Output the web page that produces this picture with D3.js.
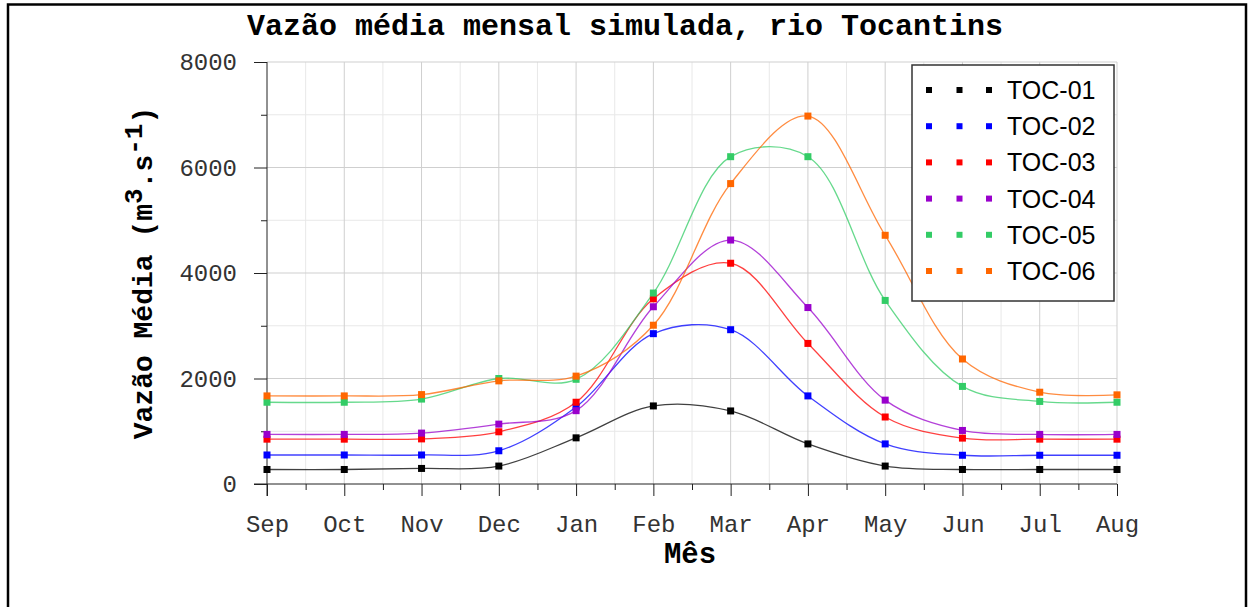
<!DOCTYPE html>
<html>
<head>
<meta charset="utf-8">
<script src="https://cdn.jsdelivr.net/npm/d3@7"></script>
<style>
  body { margin: 0; background: #fff; }
  svg { display: block; }
  .grid-major line { stroke: #cfcfcf; stroke-width: 1; }
  .grid-minor line { stroke: #e8e8e8; stroke-width: 1; }
  .axis text { font-family: "Courier New", "Liberation Mono", monospace; font-size: 24px; fill: #333; }
  .axis line, .axis path { stroke: #222; }
</style>
</head>
<body>
<svg id="chart"></svg>
<script>
const width = 1248, height = 607;
const months = ["Sep", "Oct", "Nov", "Dec", "Jan", "Feb", "Mar", "Apr", "May", "Jun", "Jul", "Aug"];
const seriesNames = ["TOC-01", "TOC-02", "TOC-03", "TOC-04", "TOC-05", "TOC-06"];
const seriesColors = ["#000000", "#0000ff", "#ff0000", "#9900cc", "#33cc66", "#ff6600"];

const toc01 = [275, 275, 295, 340, 875, 1480, 1385, 760, 340, 275, 275, 275];
const toc02 = [550, 550, 550, 630, 1460, 2850, 2925, 1670, 760, 545, 545, 545];
const toc03 = [850, 850, 855, 990, 1550, 3510, 4185, 2665, 1270, 870, 850, 850];
const toc04 = [940, 940, 965, 1135, 1390, 3360, 4625, 3345, 1590, 1015, 940, 940];
const toc05 = [1550, 1550, 1610, 2000, 1985, 3620, 6205, 6205, 3480, 1850, 1565, 1550];
const toc06 = [1670, 1670, 1695, 1955, 2045, 3010, 5695, 6975, 4715, 2370, 1740, 1690];
const seriesValues = [toc01, toc02, toc03, toc04, toc05, toc06];

const yTicks = [0, 2000, 4000, 6000, 8000];
const yMinorTicks = [1000, 3000, 5000, 7000];

const plot = { left: 267, right: 1117, top: 62, bottom: 484 };

const svg = d3.select("#chart").attr("width", width).attr("height", height);

// outer frame
svg.append("rect")
  .attr("x", 8).attr("y", 4.5)
  .attr("width", 1238).attr("height", 620)
  .attr("fill", "#fff")
  .attr("stroke", "#000")
  .attr("stroke-width", 2.5);

const x = d3.scaleLinear().domain([0, months.length - 1]).range([plot.left, plot.right]);
const y = d3.scaleLinear().domain([0, 8000]).range([plot.bottom, plot.top]);

const xMinor = d3.range(0.5, months.length - 1, 1);

// grid
const gMinor = svg.append("g").attr("class", "grid-minor");
gMinor.selectAll(".vx").data(xMinor).enter().append("line")
  .attr("x1", d => x(d)).attr("x2", d => x(d))
  .attr("y1", plot.top).attr("y2", plot.bottom);
gMinor.selectAll(".hy").data(yMinorTicks).enter().append("line")
  .attr("x1", plot.left).attr("x2", plot.right)
  .attr("y1", d => y(d)).attr("y2", d => y(d));

const gMajor = svg.append("g").attr("class", "grid-major");
gMajor.selectAll(".vx").data(d3.range(1, months.length)).enter().append("line")
  .attr("x1", d => x(d)).attr("x2", d => x(d))
  .attr("y1", plot.top).attr("y2", plot.bottom);
gMajor.selectAll(".hy").data(yTicks.slice(1)).enter().append("line")
  .attr("x1", plot.left).attr("x2", plot.right)
  .attr("y1", d => y(d)).attr("y2", d => y(d));

// axes
const xAxis = svg.append("g")
  .attr("class", "axis")
  .attr("transform", "translate(0," + plot.bottom + ")")
  .call(d3.axisBottom(x)
    .tickValues(d3.range(0, months.length))
    .tickFormat(i => months[i])
    .tickSize(12)
    .tickPadding(19));
xAxis.select(".domain").remove();

svg.append("g")
  .attr("class", "axis")
  .attr("transform", "translate(0," + plot.bottom + ")")
  .call(d3.axisBottom(x).tickValues(xMinor).tickFormat("").tickSize(6))
  .select(".domain").remove();

const yAxis = svg.append("g")
  .attr("class", "axis")
  .attr("transform", "translate(" + plot.left + ",0)")
  .call(d3.axisLeft(y).tickValues(yTicks).tickFormat(d3.format("d")).tickSize(13).tickPadding(17));
yAxis.select(".domain").remove();

svg.append("g")
  .attr("class", "axis")
  .attr("transform", "translate(" + plot.left + ",0)")
  .call(d3.axisLeft(y).tickValues(yMinorTicks).tickFormat("").tickSize(6))
  .select(".domain").remove();

svg.append("line")
  .attr("x1", plot.left - 13).attr("x2", plot.right)
  .attr("y1", plot.bottom).attr("y2", plot.bottom)
  .attr("stroke", "#222");
svg.append("line")
  .attr("x1", plot.left).attr("x2", plot.left)
  .attr("y1", plot.top).attr("y2", plot.bottom + 12)
  .attr("stroke", "#222");

// series
const line = d3.line()
  .x((d, i) => x(i))
  .y(d => y(d))
  .curve(d3.curveCatmullRom.alpha(0.5));

const gSeries = svg.append("g").attr("class", "series");
seriesValues.forEach(function (vals, s) {
  gSeries.append("path")
    .datum(vals)
    .attr("d", line)
    .attr("fill", "none")
    .attr("stroke", seriesColors[s])
    .attr("stroke-opacity", 0.75)
    .attr("stroke-width", 1.3);
});
seriesValues.forEach(function (vals, s) {
  gSeries.append("g")
    .selectAll("rect")
    .data(vals)
    .enter()
    .append("rect")
    .attr("x", (d, i) => x(i) - 3.5)
    .attr("y", d => y(d) - 3.5)
    .attr("width", 7)
    .attr("height", 7)
    .attr("fill", seriesColors[s]);
});

// legend
const legend = svg.append("g").attr("class", "legend");
legend.append("rect")
  .attr("x", 912).attr("y", 65)
  .attr("width", 202).attr("height", 236)
  .attr("fill", "#fff")
  .attr("stroke", "#333")
  .attr("stroke-width", 1.5);

const legendRow = d3.scaleLinear().domain([0, 5]).range([90, 271]);
const legendDots = [929, 959.5, 989];
seriesNames.forEach(function (name, s) {
  legendDots.forEach(function (lx) {
    legend.append("rect")
      .attr("x", lx - 3).attr("y", legendRow(s) - 3)
      .attr("width", 6).attr("height", 6)
      .attr("fill", seriesColors[s]);
  });
  legend.append("text")
    .attr("x", 1007)
    .attr("y", legendRow(s) + 9)
    .attr("font-family", "Arial, 'Liberation Sans', sans-serif")
    .attr("font-size", "25px")
    .attr("fill", "#000")
    .text(name);
});

// titles
svg.append("text")
  .attr("x", 625).attr("y", 35)
  .attr("text-anchor", "middle")
  .attr("font-family", "'Courier New', 'Liberation Mono', monospace")
  .attr("font-weight", "bold")
  .attr("font-size", "30px")
  .text("Vazão média mensal simulada, rio Tocantins");

svg.append("text")
  .attr("x", 690).attr("y", 563)
  .attr("text-anchor", "middle")
  .attr("font-family", "'Courier New', 'Liberation Mono', monospace")
  .attr("font-weight", "bold")
  .attr("font-size", "29px")
  .text("Mês");

const yTitle = svg.append("text")
  .attr("transform", "translate(152,273) rotate(-90)")
  .attr("text-anchor", "middle")
  .attr("font-family", "'Courier New', 'Liberation Mono', monospace")
  .attr("font-weight", "bold")
  .attr("font-size", "28px");
yTitle.append("tspan").text("Vazão Média (m");
yTitle.append("tspan").attr("dy", -10).attr("font-size", "26px").text("3");
yTitle.append("tspan").attr("dy", 10).text(".s");
yTitle.append("tspan").attr("dy", -10).attr("font-size", "26px").text("-1");
yTitle.append("tspan").attr("dy", 10).text(")");
</script>
</body>
</html>
